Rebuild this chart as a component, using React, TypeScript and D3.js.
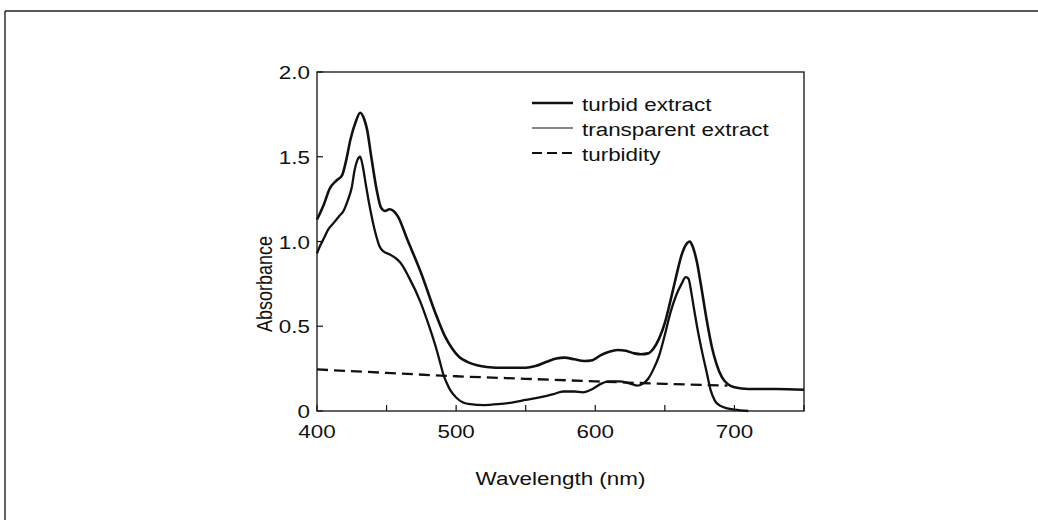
import React, { useEffect } from "react";
import * as d3 from "d3";

// ---- Data ----
const turbidWl = [400, 405, 409, 414, 418, 421, 424, 428, 431, 434, 436, 439, 443, 446, 449, 452, 455, 458, 465, 475, 485, 492, 497, 502, 508, 515, 522, 535, 550, 557, 565, 572, 578, 585, 592, 598, 604, 610, 616, 622, 628, 633, 638, 642, 646, 650, 654, 658, 662, 666, 668, 670, 673, 676, 680, 684, 687, 691, 695, 700, 710, 730, 750];
const turbidAbs = [1.13, 1.22, 1.31, 1.36, 1.39, 1.48, 1.6, 1.71, 1.76, 1.72, 1.66, 1.5, 1.3, 1.2, 1.18, 1.19, 1.18, 1.15, 1.01, 0.81, 0.58, 0.44, 0.37, 0.32, 0.29, 0.27, 0.26, 0.255, 0.255, 0.265, 0.29, 0.31, 0.315, 0.305, 0.295, 0.3, 0.33, 0.35, 0.36, 0.355, 0.34, 0.335, 0.34, 0.37, 0.43, 0.52, 0.65, 0.79, 0.92, 0.99, 1.0, 0.97, 0.88, 0.74, 0.54, 0.37, 0.28, 0.2, 0.16, 0.14, 0.13, 0.13, 0.125];

const transpWl = [400, 402, 405, 408, 412, 416, 419, 422, 425, 427, 429, 431, 433, 435, 437, 440, 442, 445, 448, 452, 456, 460, 466, 474, 481, 486, 489, 491, 493, 496, 500, 505, 510, 520, 530, 540, 550, 560, 570, 577, 585, 591, 598, 604, 610, 617, 624, 630, 634, 638, 642, 646, 650, 654, 658, 662, 665, 667, 669, 671, 674, 677, 680, 683, 686, 690, 695, 700, 710];
const transpAbs = [0.93, 0.97, 1.02, 1.07, 1.11, 1.15, 1.18, 1.24, 1.32, 1.42, 1.48, 1.5, 1.44, 1.34, 1.245, 1.12, 1.05, 0.97, 0.94, 0.925, 0.905, 0.875, 0.79, 0.65, 0.49, 0.36, 0.27, 0.21, 0.17, 0.12, 0.08, 0.05, 0.04, 0.035, 0.04, 0.05, 0.065, 0.08, 0.1, 0.115, 0.115, 0.11, 0.13, 0.16, 0.175, 0.175, 0.165, 0.15, 0.16, 0.19, 0.25, 0.33, 0.45, 0.58, 0.68, 0.75, 0.79, 0.78, 0.7, 0.6, 0.46, 0.34, 0.23, 0.12, 0.06, 0.03, 0.015, 0.008, 0.0];

const turbidityWl = [400, 450, 500, 550, 600, 650, 695];
const turbidityAbs = [0.245, 0.225, 0.205, 0.19, 0.175, 0.16, 0.15];

const xTickValues = [400, 450, 500, 550, 600, 650, 700, 750];
const xTickLabels = ["400", "", "500", "", "600", "", "700", ""];
const yTickValues = [0, 0.5, 1.0, 1.5, 2.0];
const yTickLabels = ["0", "0.5", "1.0", "1.5", "2.0"];

const legendLabels = ["turbid extract", "transparent extract", "turbidity"];

const FONT = "'Liberation Sans', Arial, Helvetica, sans-serif";
const SX = 1.18;

export default function App() {
  useEffect(() => {
    document.body.style.margin = "0";
  }, []);

  const left = 317, right = 804, top = 72, bottom = 411;
  const x = d3.scaleLinear().domain([400, 750]).range([left, right]);
  const y = d3.scaleLinear().domain([0, 2]).range([bottom, top]);

  const line = d3
    .line<[number, number]>()
    .x((d) => x(d[0]))
    .y((d) => y(d[1]))
    .curve(d3.curveMonotoneX);

  const turbid = line(turbidWl.map((w, i) => [w, turbidAbs[i]]) as [number, number][]) || "";
  const transp = line(transpWl.map((w, i) => [w, transpAbs[i]]) as [number, number][]) || "";
  const turbidity = line(turbidityWl.map((w, i) => [w, turbidityAbs[i]]) as [number, number][]) || "";

  const legendStyles = [
    { w: 2.4, dash: undefined as string | undefined },
    { w: 1.1, dash: undefined as string | undefined },
    { w: 2.2, dash: "10,5" },
  ];

  return (
    <svg
      width={1038}
      height={520}
      style={{ position: "absolute", left: 0, top: 0, background: "#fff" }}
      fontFamily={FONT}
    >
      <rect x={0} y={0} width={1038} height={520} fill="#fff" />
      {/* outer frame */}
      <line x1={5} y1={11} x2={1038} y2={11} stroke="#222" strokeWidth={1.6} />
      <line x1={5} y1={11} x2={5} y2={520} stroke="#222" strokeWidth={1.4} />

      {/* plot box */}
      <rect x={left} y={top} width={right - left} height={bottom - top} fill="none" stroke="#111" strokeWidth={1.3} />

      {/* x ticks */}
      {xTickValues.map((v, i) => (
        <g key={"xt" + v}>
          <line x1={x(v)} x2={x(v)} y1={bottom} y2={bottom - 6} stroke="#111" strokeWidth={1.2} />
          {xTickLabels[i] && (
            <text
              transform={`translate(${x(v)},${438}) scale(${SX},1)`}
              textAnchor="middle"
              fontSize={19}
              fill="#111"
            >
              {xTickLabels[i]}
            </text>
          )}
        </g>
      ))}

      {/* y ticks */}
      {yTickValues.map((v, i) => (
        <g key={"yt" + v}>
          <line x1={left} x2={left + 6} y1={y(v)} y2={y(v)} stroke="#111" strokeWidth={1.2} />
          <text
            transform={`translate(${310},${y(v) + 7}) scale(${SX},1)`}
            textAnchor="end"
            fontSize={19}
            fill="#111"
          >
            {yTickLabels[i]}
          </text>
        </g>
      ))}

      {/* axis titles */}
      <text
        transform={`translate(${(left + right) / 2},${485}) scale(${SX},1)`}
        textAnchor="middle"
        fontSize={19}
        fill="#111"
      >
        Wavelength (nm)
      </text>
      <text
        transform={`translate(${272},${284}) rotate(-90) scale(1,${SX})`}
        textAnchor="middle"
        fontSize={18}
        fill="#111"
      >
        Absorbance
      </text>

      {/* curves */}
      <path d={turbidity} fill="none" stroke="#111" strokeWidth={2.3} strokeDasharray="11,6" />
      <path d={transp} fill="none" stroke="#111" strokeWidth={2.3} strokeLinejoin="round" />
      <path d={turbid} fill="none" stroke="#111" strokeWidth={2.6} strokeLinejoin="round" />

      {/* legend */}
      {legendLabels.map((lab, i) => {
        const ly = 103 + i * 25;
        return (
          <g key={lab}>
            <line
              x1={532}
              x2={573}
              y1={ly}
              y2={ly}
              stroke="#111"
              strokeWidth={legendStyles[i].w}
              strokeDasharray={legendStyles[i].dash}
            />
            <text
              transform={`translate(${582},${ly + 8}) scale(${SX},1)`}
              fontSize={19}
              fill="#111"
            >
              {lab}
            </text>
          </g>
        );
      })}
    </svg>
  );
}
